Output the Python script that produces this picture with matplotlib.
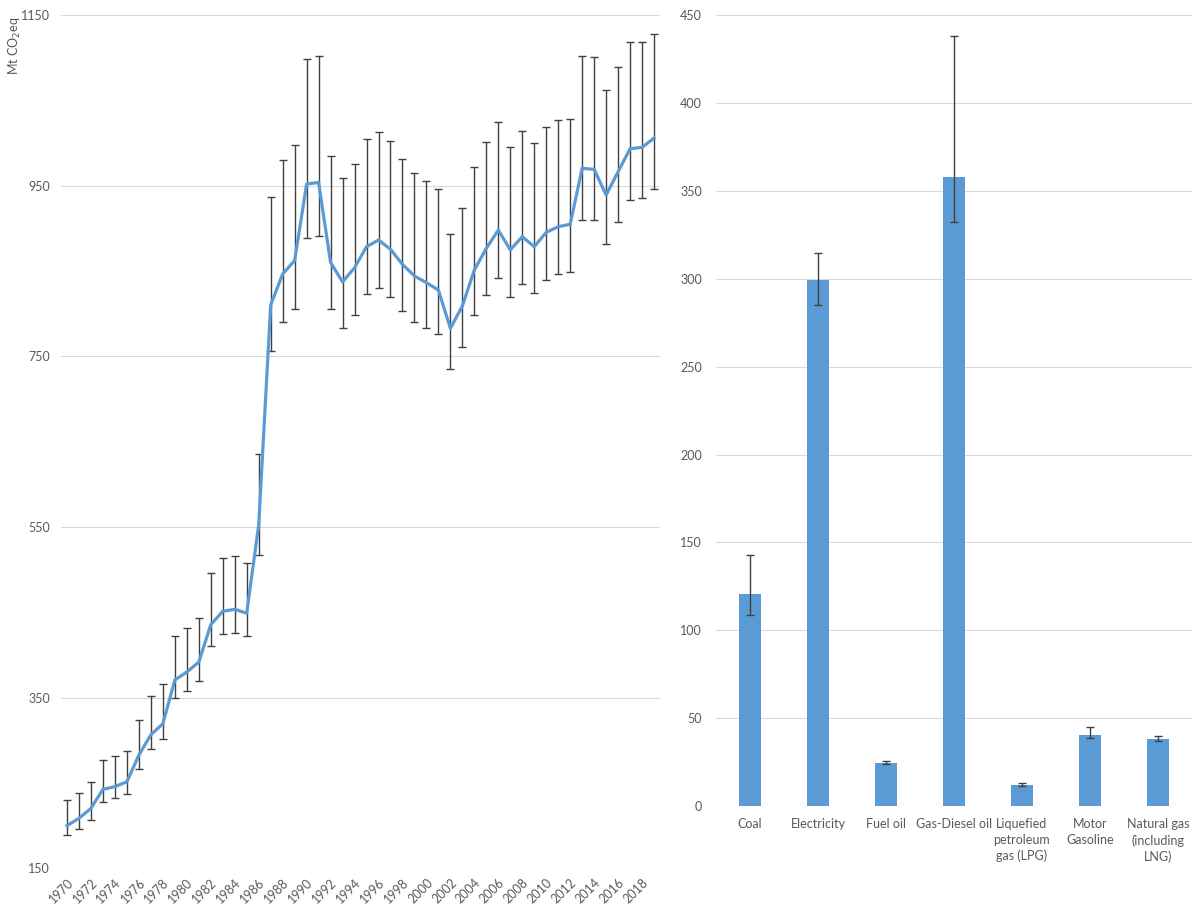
import numpy as np
import matplotlib
matplotlib.use('Agg')
import matplotlib.pyplot as plt

plt.rcParams['font.family'] = ['Lato', 'DejaVu Sans']

# left panel: yearly emissions with upper / lower uncertainty bounds
years = list(range(1970, 2020))
emissions = [200, 208.6, 220.3, 242.6, 245.7, 251.5, 282.8, 306.6, 319.5, 370.8,
             380.1, 391.8, 435.6, 451.3, 453.6, 449, 552.7, 810.4, 846.7, 862.5,
             952.2, 954, 860.2, 837.4, 854.1, 878.7, 886.6, 875.7, 858, 844.4,
             836.5, 827.9, 783, 809.2, 851.5, 876.8, 898.3, 874.9, 890.5, 878.7,
             895.6, 902.2, 905, 970.6, 969.4, 939.3, 966.6, 993.6, 995.2, 1006.1]
upper = [229.7, 237.9, 250.8, 276.6, 281.3, 287.2, 323.5, 351.6, 365.7, 422.3,
         431.4, 443.1, 496, 513.4, 515.8, 507.6, 635.3, 937.3, 980.8, 997.6,
         1098.4, 1101.9, 985.6, 958.9, 975.3, 1004.6, 1012.8, 1002.3, 981.2, 964.8,
         955.4, 946, 893.3, 923.7, 971.8, 1001.1, 1024.6, 995.2, 1014, 999.9,
         1018.7, 1026.9, 1028.4, 1102.7, 1101.5, 1062, 1089, 1118.3, 1118.3, 1128]
lower = [188.7, 195.7, 206.3, 227.4, 232, 236.7, 266, 289.5, 301.2, 349.3,
         357.5, 369.6, 410.3, 424.3, 425.5, 422.3, 517.3, 756.5, 790.1, 805.3,
         888.6, 891, 805.3, 783, 798.3, 823, 830, 819.4, 803, 790,
         783, 776, 735, 760.8, 798.3, 821.7, 841.7, 819.4, 834.6, 824.1,
         839.3, 846.4, 848.7, 909.7, 909.7, 881.5, 907.3, 933.1, 935.5, 946.4]

# right panel: by fuel
fuels = ['Coal', 'Electricity', 'Fuel oil', 'Gas-Diesel oil',
         'Liquefied\npetroleum\ngas (LPG)', 'Motor\nGasoline', 'Natural gas\n(including\nLNG)']
fuel_vals = [120.5, 299.4, 24.5, 358, 12, 40.5, 38.2]
fuel_hi = [142.6, 314.8, 25.5, 438.1, 12.9, 44.9, 39.7]
fuel_lo = [108.7, 285.2, 23.8, 332.2, 11.6, 38.4, 36.9]

blue = '#5B9BD5'
grey_txt = '#595959'
grid_c = '#D9D9D9'
err_c = '#404040'

fig = plt.figure(figsize=(12.04, 9.11), dpi=100)

# --- left
ax1 = fig.add_axes([0.0507, 0.0469, 0.4975, 0.9363])
x = np.arange(len(years))
em = np.array(emissions)
yerr = [em - np.array(lower), np.array(upper) - em]
ax1.errorbar(x, em, yerr=yerr, fmt='none', ecolor=err_c, elinewidth=1,
             capsize=2.6, capthick=1, zorder=2)
ax1.plot(x, em, color=blue, lw=2.3, zorder=3, solid_joinstyle='round')
ax1.set_xlim(-0.5, len(years) - 0.5)
ax1.set_ylim(150, 1150)
ax1.set_yticks(range(150, 1151, 200))
ax1.set_xticks(x[::2])
ax1.set_xticklabels([str(y) for y in years[::2]], rotation=45, ha='right',
                    rotation_mode='anchor')
ax1.grid(axis='y', color=grid_c, lw=0.8)
ax1.set_axisbelow(True)
for s in ax1.spines.values():
    s.set_visible(False)
ax1.tick_params(length=0, colors=grey_txt, labelsize=9)
ax1.tick_params(axis='y', pad=8)
ax1.tick_params(axis='x', pad=6)
fig.text(15 / 1204, 1 - 46 / 911, 'Mt CO$_2$eq', rotation=90, ha='center',
         va='center', color=grey_txt, fontsize=9)

# --- right
ax2 = fig.add_axes([0.5947, 0.1153, 0.3953, 0.8679])
xb = np.arange(len(fuels))
fv = np.array(fuel_vals)
ferr = [fv - np.array(fuel_lo), np.array(fuel_hi) - fv]
ax2.bar(xb, fv, width=0.31, color=blue, zorder=2)
ax2.errorbar(xb, fv, yerr=ferr, fmt='none', ecolor=err_c, elinewidth=1,
             capsize=2.6, capthick=1, zorder=3)
ax2.set_xlim(-0.5, len(fuels) - 0.5)
ax2.set_ylim(0, 450)
ax2.set_yticks(range(0, 451, 50))
ax2.set_xticks(xb)
ax2.set_xticklabels(fuels, ha='center', va='top', linespacing=1.35)
ax2.grid(axis='y', color=grid_c, lw=0.8)
ax2.set_axisbelow(True)
for s in ax2.spines.values():
    s.set_visible(False)
ax2.tick_params(length=0, colors=grey_txt, labelsize=9)
ax2.tick_params(axis='y', pad=10)
ax2.tick_params(axis='x', pad=9)

plt.savefig('out.png', dpi=100)
